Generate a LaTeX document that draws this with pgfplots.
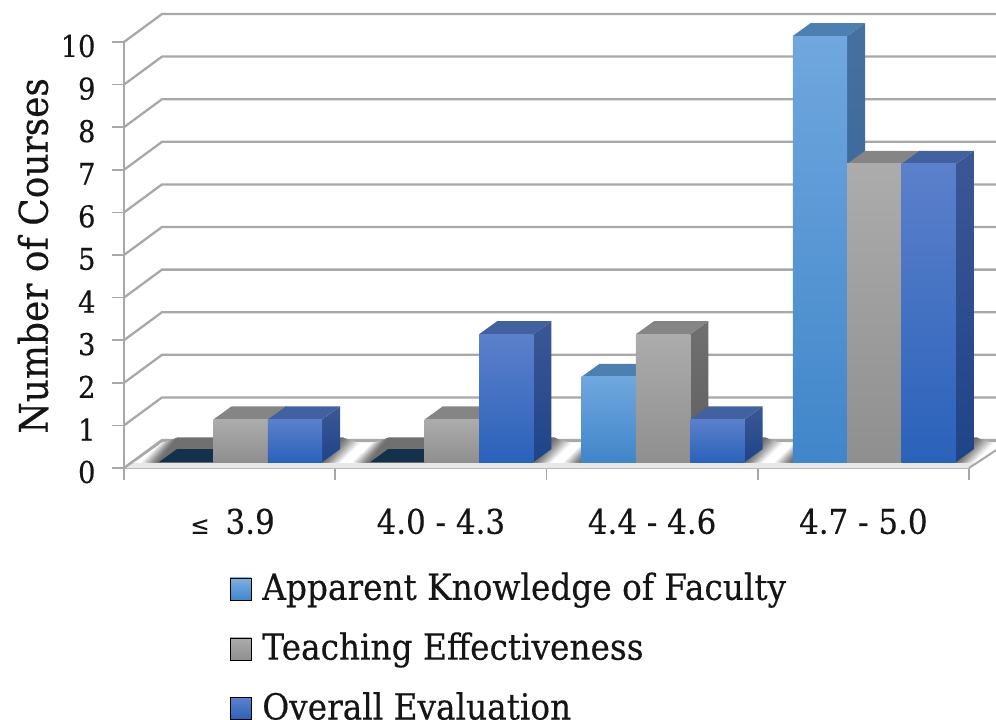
\documentclass[border=0pt]{standalone}
\usepackage{pgfplots}
\usepackage{fontspec}
\pgfplotsset{compat=1.18}
\setmainfont{DejaVu Serif}[FakeStretch=0.91,FakeBold=0.35]
\definecolor{gridg}{HTML}{A8A8A8}
\definecolor{txt}{HTML}{151515}
\newcommand\XP[2]{\pgfmathsetmacro#1{(#2-124)/211.25}}
\newcommand\YP[2]{\pgfmathsetmacro#1{(468-#2)/42.6}}
% one wall grid line: left wall diagonal and back wall line
\newcommand\GridL[1]{%
  \pgfmathsetmacro\yf{#1}\pgfmathsetmacro\yb{#1+28/42.6}%
  \XP\xd{162}\XP\xe{1010}%
  \addplot[gridg,line width=2.3pt,forget plot] coordinates {(0,\yf)(\xd,\yb)(\xe,\yb)};}
% blurred floor shadow of a group: nested parallelograms
\newcommand\Shadow[3]{%
  \XP\xa{141+#2+211.25*#1}\XP\xb{161+#2+211.25*#1}\XP\xc{360-#2+211.25*#1}\XP\xd{340-#2+211.25*#1}%
  \YP\ya{462.5}\YP\yb{443+0.35*#2}%
  \addplot[fill=#3,draw=none,forget plot] coordinates {(\xa,\ya)(\xb,\yb)(\xc,\yb)(\xd,\ya)} --cycle;}
\newcommand\ShadowAll[1]{%
  \Shadow{#1}{0}{black!6}\Shadow{#1}{2}{black!13}\Shadow{#1}{4}{black!20}\Shadow{#1}{6}{black!27}%
  \Shadow{#1}{8}{black!34}\Shadow{#1}{10}{black!41}\Shadow{#1}{12}{black!47}\Shadow{#1}{14}{black!52}\Shadow{#1}{16}{black!56}}
% group, series, value, front top colour, front bottom colour, side top, side bottom, top face
\newcommand\TBar[8]{%
  \pgfmathsetmacro\xa{#1+0.1657+#2*0.2575}\pgfmathsetmacro\xb{\xa+0.2575}%
  \pgfmathsetmacro\xc{\xb+0.0852}\pgfmathsetmacro\xd{\xa+0.0852}%
  \pgfmathsetmacro\ya{0.14}\pgfmathsetmacro\yb{#3+0.14}%
  \pgfmathsetmacro\yc{\ya+0.305}\pgfmathsetmacro\yd{\yb+0.305}%
  \ifdim#3pt>0pt
    \addplot[top color=#6,bottom color=#7,draw=none,forget plot] coordinates {(\xb,\ya)(\xc,\yc)(\xc,\yd)(\xb,\yb)} --cycle;
  \fi
  \addplot[fill=#8,draw=none,forget plot] coordinates {(\xa,\yb)(\xb,\yb)(\xc,\yd)(\xd,\yd)} --cycle;
  \ifdim#3pt>0pt
    \addplot[top color=#4,bottom color=#5,draw=none,forget plot] coordinates {(\xa,\ya)(\xb,\ya)(\xb,\yb)(\xa,\yb)} --cycle;
  \fi}
\newcommand\BarA[2]{\ifdim#2pt>0pt \TBar{#1}{0}{#2}{A1}{A2}{A3}{A4}{A5}\else \TBar{#1}{0}{#2}{A1}{A2}{A3}{A4}{Z0}\fi}
\newcommand\BarB[2]{\TBar{#1}{1}{#2}{B1}{B2}{B3}{B4}{B5}}
\newcommand\BarC[2]{\TBar{#1}{2}{#2}{C1}{C2}{C3}{C4}{C5}}
\definecolor{A1}{HTML}{70A7DE}\definecolor{A2}{HTML}{4086CA}\definecolor{A3}{HTML}{46709F}\definecolor{A4}{HTML}{2F6196}\definecolor{A5}{HTML}{4D7FB0}
\definecolor{B1}{HTML}{ACACAC}\definecolor{B2}{HTML}{8F8F8F}\definecolor{B3}{HTML}{707070}\definecolor{B4}{HTML}{5F5F5F}\definecolor{B5}{HTML}{858585}
\definecolor{C1}{HTML}{5C80CB}\definecolor{C2}{HTML}{2A62BA}\definecolor{C3}{HTML}{3C5795}\definecolor{C4}{HTML}{1E4488}\definecolor{C5}{HTML}{44619F}
\definecolor{Z0}{HTML}{14304A}
\begin{document}
\begin{tikzpicture}
\useasboundingbox (-124pt,-252pt) rectangle (872pt,468pt);
\begin{axis}[
  width=845pt,height=426pt,scale only axis,
  xmin=0,xmax=4,ymin=0,ymax=10,clip=false,
  axis x line*=bottom,axis y line*=left,
  axis line style={gridg,line width=2pt,-},
  tick style={gridg,line width=1.6pt},
  tick align=outside,major tick length=12pt,
  xtick={0,1,2,3,4},
  x tick label as interval,
  xticklabels={\hspace*{6pt}{\fontsize{25}{25}\selectfont ≤}\hspace{16pt}3.9,4.0 - 4.3,4.4 - 4.6,4.7 - 5.0},
  ytick={0,1,2,3,4,5,6,7,8,9,10},
  /pgf/number format/assume math mode=true,
  ticklabel style={text=txt,font=\fontsize{30}{30}\selectfont},
  xticklabel style={font=\fontsize{34}{34}\selectfont,yshift=-25pt},
  yticklabel style={xshift=-13pt,yshift=-4pt},
  ylabel={Number of Courses},
  every axis y label/.style={at={(axis description cs:-0.1077,0.498)},rotate=90,anchor=center,text=txt,font=\fontsize{39.5}{40}\selectfont},
  legend style={at={(axis description cs:0.1254,-0.2405)},anchor=north west,draw=none,fill=none,
    font=\fontsize{36}{36}\selectfont,text=txt,row sep=27pt,inner sep=0pt,outer sep=0pt},
  legend cell align=left,
]
% walls
\GridL{0}\GridL{1}\GridL{2}\GridL{3}\GridL{4}\GridL{5}\GridL{6}\GridL{7}\GridL{8}\GridL{9}\GridL{10}
% floor
\XP\fa{124}\XP\fb{162}\XP\fc{1010}\XP\fd{969}\YP\fy{441}\YP\fe{463}\XP\fg{131}\XP\fh{976}
\addplot[fill=white,draw=none,forget plot] coordinates {(\fa,0)(\fb,\fy)(\fc,\fy)(\fd,0)} --cycle;
\addplot[fill=black!9,draw=none,forget plot] coordinates {(\fa,0)(\fg,\fe)(\fh,\fe)(\fd,0)} --cycle;
\addplot[gridg,line width=2.3pt,forget plot] coordinates {(\fa,0)(\fb,\fy)(\fc,\fy)};
\addplot[gridg,line width=2pt,forget plot] coordinates {(\fd,0)(\fc,\fy)};
% shadows
\ShadowAll{0}\ShadowAll{1}\ShadowAll{2}\ShadowAll{3}
% bars: values
\BarA{0}{0}\BarB{0}{1}\BarC{0}{1}
\BarA{1}{0}\BarB{1}{1}\BarC{1}{3}
\BarA{2}{2}\BarB{2}{3}\BarC{2}{1}
\BarA{3}{10}\BarB{3}{7}\BarC{3}{7}
% legend
\addlegendimage{legend image code/.code={\shade[top color=A1!90!white,bottom color=A2] (0pt,-13pt) rectangle (21pt,9pt);\path (30pt,0pt);}}
\addlegendentry{Apparent Knowledge of Faculty}
\addlegendimage{legend image code/.code={\shade[top color=B1,bottom color=B2] (0pt,-13pt) rectangle (21pt,9pt);\path (30pt,0pt);}}
\addlegendentry{Teaching Effectiveness}
\addlegendimage{legend image code/.code={\shade[top color=C1,bottom color=C2] (0pt,-13pt) rectangle (21pt,9pt);\path (30pt,0pt);}}
\addlegendentry{Overall Evaluation}
\end{axis}
\end{tikzpicture}
\end{document}
